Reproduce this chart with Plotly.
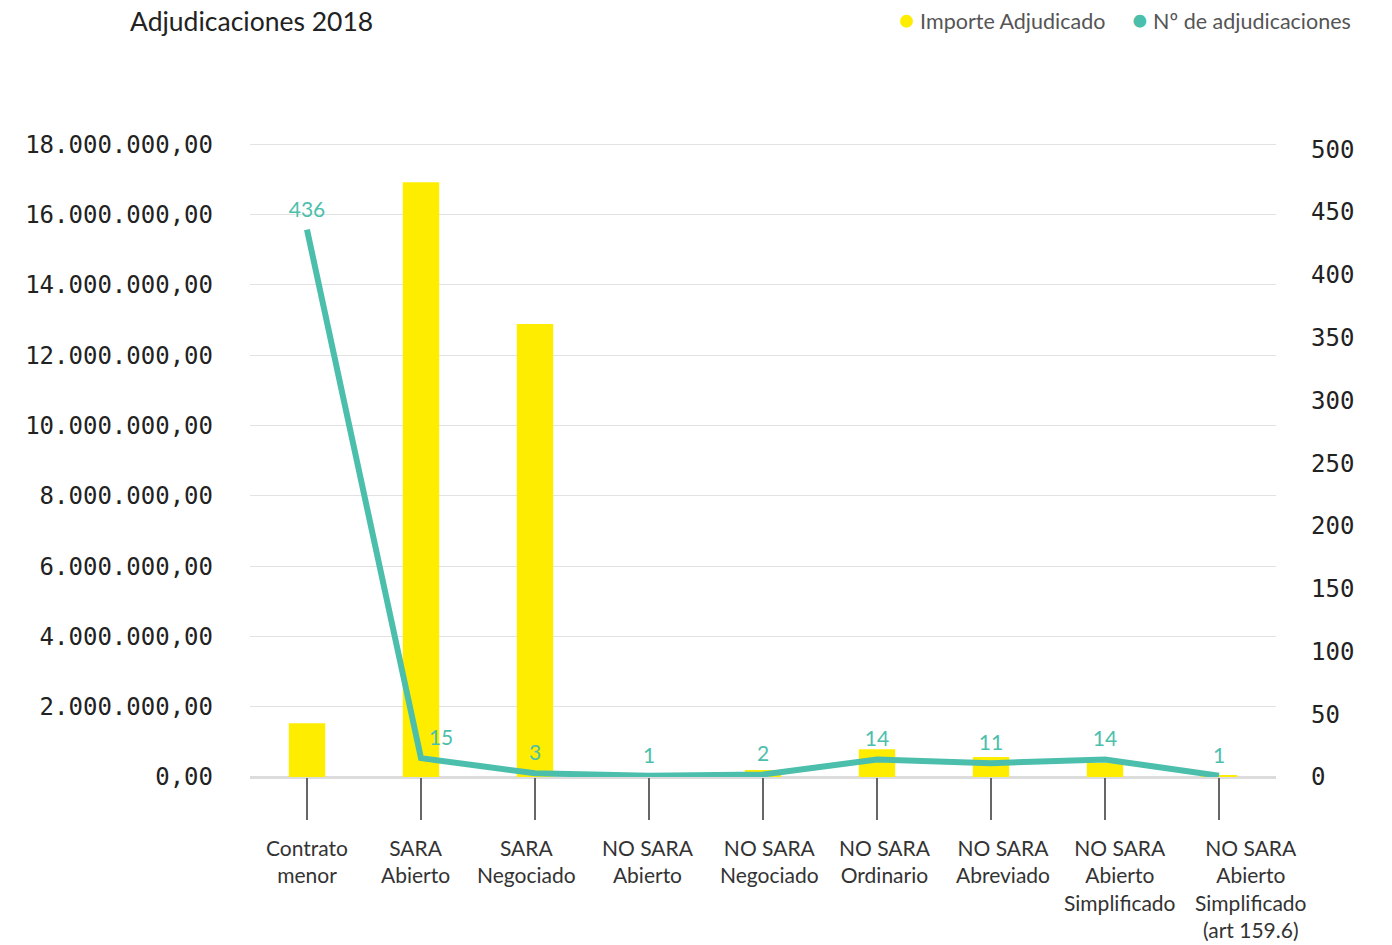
import plotly.graph_objects as go

categories = ["Contrato menor", "SARA Abierto", "SARA Negociado", "NO SARA Abierto",
              "NO SARA Negociado", "NO SARA Ordinario", "NO SARA Abreviado",
              "NO SARA Abierto Simplificado", "NO SARA Abierto Simplificado (art 159.6)"]
category_labels = ["Contrato<br>menor", "SARA<br>Abierto", "SARA<br>Negociado", "NO SARA<br>Abierto",
                   "NO SARA<br>Negociado", "NO SARA<br>Ordinario", "NO SARA<br>Abreviado",
                   "NO SARA<br>Abierto<br>Simplificado", "NO SARA<br>Abierto<br>Simplificado<br>(art 159.6)"]
importe = [1530000, 16920000, 12890000, 100000, 200000, 790000, 570000, 400000, 50000]
num_adjudicaciones = [436, 15, 3, 1, 2, 14, 11, 14, 1]
label_positions = ["top center", "top right", "top center", "top center", "top center",
                   "top center", "top center", "top center", "top center"]
label_xshifts = [0, -6, -9, -1, 6, 8, 12, 15, 32]

left_tickvals = [0, 2000000, 4000000, 6000000, 8000000, 10000000, 12000000, 14000000, 16000000, 18000000]
left_ticktext = ["0,00", "2.000.000,00", "4.000.000,00", "6.000.000,00", "8.000.000,00",
                 "10.000.000,00", "12.000.000,00", "14.000.000,00", "16.000.000,00", "18.000.000,00"]
right_tickvals = [0, 50, 100, 150, 200, 250, 300, 350, 400, 450, 500]

YELLOW = "#FFED00"
TEAL = "#4BBFAC"
SANS = "Lato, 'Noto Sans', sans-serif"
MONO = "'DejaVu Sans Mono', monospace"

fig = go.Figure()
fig.add_trace(go.Bar(
    x=categories, y=importe, name="Importe Adjudicado",
    marker=dict(color=YELLOW, line=dict(width=0)), width=0.32,
    showlegend=False, yaxis="y",
))
fig.add_trace(go.Scatter(
    x=categories, y=num_adjudicaciones, name="Nº de adjudicaciones",
    mode="lines+markers+text", line=dict(color=TEAL, width=6),
    marker=dict(size=11, color="rgba(0,0,0,0)"),
    text=[str(v) for v in num_adjudicaciones], textposition=label_positions,
    textfont=dict(family=SANS, size=21, color=TEAL),
    showlegend=False, yaxis="y2", cliponaxis=False,
))

legend_y = 1 + (143 - 19) / 634

annotations = [
    dict(text=f"<span style='color:{YELLOW};font-size:26px'>●</span> Importe Adjudicado",
         xref="paper", yref="paper", x=(1107 - 250) / 1026, y=legend_y,
         xanchor="right", yanchor="middle", showarrow=False,
         font=dict(family=SANS, size=21.5, color="#555")),
    dict(text=f"<span style='color:{TEAL};font-size:26px'>●</span> Nº de adjudicaciones",
         xref="paper", yref="paper", x=(1353 - 250) / 1026, y=legend_y,
         xanchor="right", yanchor="middle", showarrow=False,
         font=dict(family=SANS, size=21.5, color="#555")),
]
for cat, lab, dx in zip(categories, category_labels, label_xshifts):
    annotations.append(dict(
        text=lab, x=cat, xref="x", y=0, yref="paper",
        xanchor="center", yanchor="top", yshift=-56, xshift=dx,
        align="center", showarrow=False,
        font=dict(family=SANS, size=21, color="#333"),
    ))

fig.update_layout(
    width=1392, height=945,
    paper_bgcolor="white", plot_bgcolor="white",
    margin=dict(l=250, r=116, t=143, b=168, autoexpand=False),
    font=dict(family=SANS, color="#333"),
    title=dict(text="Adjudicaciones 2018", x=130/1392, xanchor="left", xref="container",
               y=1 - 22/945, yanchor="middle", yref="container",
               font=dict(family=SANS, size=26.5, color="#222")),
    xaxis=dict(type="category", range=[-0.5, 8.5], showgrid=False, showline=False, zeroline=False,
               ticks="outside", ticklen=42, tickwidth=2, tickcolor="#666",
               showticklabels=False, automargin=False),
    yaxis=dict(range=[0, 18040000], tickvals=left_tickvals, ticktext=left_ticktext,
               showgrid=True, gridcolor="#e2e2e2", gridwidth=1,
               zeroline=True, zerolinecolor="#dcdcdc", zerolinewidth=3,
               ticks="", ticklabelstandoff=36, automargin=False,
               tickfont=dict(family=MONO, size=24, color="#222")),
    yaxis2=dict(range=[0, 505], tickvals=right_tickvals, overlaying="y", side="right",
                showgrid=False, zeroline=False, ticks="", ticklabelstandoff=34, automargin=False,
                tickfont=dict(family=MONO, size=24, color="#222")),
    bargap=0.68,
    showlegend=False,
    annotations=annotations,
)

fig.write_html("out.html", config={"displayModeBar": False},
               post_script="document.body.style.margin='0';")
